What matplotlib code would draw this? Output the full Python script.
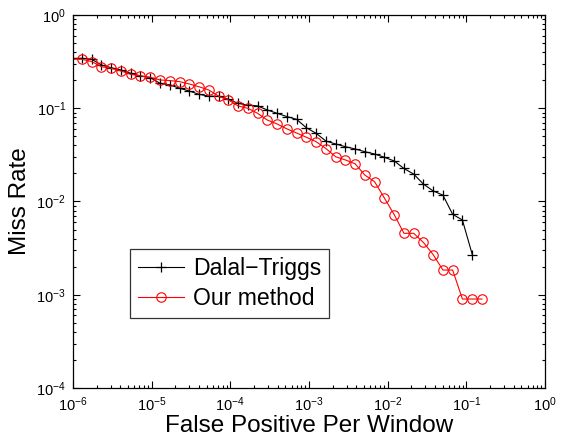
import numpy as np
import matplotlib
matplotlib.use("Agg")
import matplotlib.pyplot as plt

plt.rcParams['font.family'] = ['Liberation Sans', 'DejaVu Sans']
plt.rcParams['mathtext.fontset'] = 'custom'
plt.rcParams['mathtext.rm'] = 'Liberation Sans'
plt.rcParams['mathtext.it'] = 'Liberation Sans'
plt.rcParams['mathtext.bf'] = 'Liberation Sans'

# False positives per window (x) sampled along each curve
fppw = [1.30e-6, 1.73e-6, 2.30e-6, 3.06e-6, 4.07e-6, 5.42e-6, 7.21e-6, 9.59e-6,
        1.28e-5, 1.70e-5, 2.26e-5, 3.01e-5, 4.00e-5, 5.32e-5, 7.08e-5, 9.42e-5,
        1.25e-4, 1.67e-4, 2.22e-4, 2.95e-4, 3.93e-4, 5.22e-4, 6.95e-4, 9.25e-4,
        1.23e-3, 1.64e-3, 2.18e-3, 2.90e-3, 3.85e-3, 5.13e-3, 6.82e-3, 9.08e-3,
        1.21e-2, 1.61e-2, 2.14e-2, 2.84e-2, 3.78e-2, 5.04e-2, 6.70e-2, 8.91e-2,
        0.119, 0.158]

dalal_x = [7.0e-7] + fppw[:41]
dalal_miss = [0.343, 0.343, 0.335, 0.291, 0.272, 0.257, 0.237, 0.222, 0.213,
              0.185, 0.178, 0.164, 0.153, 0.141, 0.135, 0.134, 0.125, 0.113,
              0.108, 0.106, 0.0958, 0.0883, 0.0815, 0.0761, 0.0618, 0.0539,
              0.0445, 0.0414, 0.0387, 0.0366, 0.0342, 0.0323, 0.0298, 0.0272,
              0.0226, 0.0197, 0.0154, 0.0130, 0.0117, 0.00729, 0.00633, 0.00270]

ours_x = [7.0e-7] + fppw
ours_miss = [0.335, 0.335, 0.316, 0.279, 0.268, 0.251, 0.231, 0.222, 0.215,
             0.201, 0.198, 0.193, 0.182, 0.170, 0.157, 0.135, 0.123, 0.106,
             0.0999, 0.0883, 0.0748, 0.0678, 0.0602, 0.0543, 0.0489, 0.0438,
             0.0370, 0.0302, 0.0279, 0.0254, 0.0192, 0.0163, 0.0109, 0.00724,
             0.00456, 0.00456, 0.00365, 0.00270, 0.00184, 0.00184, 0.00090,
             0.00090, 0.00090]

labels = ["Dalal\u2212Triggs", "Our method"]

fig = plt.figure(figsize=(5.63, 4.40), dpi=100)
ax = fig.add_axes([73/563, 1-388/440, 472/563, 373/440])

ax.plot(dalal_x, dalal_miss, color='black', lw=0.8, marker='+', ms=7,
        mew=0.9, label=labels[0])
ax.plot(ours_x, ours_miss, color='red', lw=0.8, marker='o', ms=6.8,
        mfc='none', mec='red', mew=0.8, label=labels[1])

ax.set_xscale('log')
ax.set_yscale('log')
ax.set_xlim(1e-6, 1)
ax.set_ylim(1e-4, 1)
ax.set_xticks([1e-6, 1e-5, 1e-4, 1e-3, 1e-2, 1e-1, 1])
ax.set_yticks([1e-4, 1e-3, 1e-2, 1e-1, 1])

ax.tick_params(which='both', direction='in', top=True, right=True,
               labelsize=10.5, width=0.8, colors='black')
ax.tick_params(which='major', length=5, pad=5)
ax.tick_params(which='minor', length=2.5)
for s in ax.spines.values():
    s.set_linewidth(0.9)

ax.set_xlabel("False Positive Per Window", fontsize=17.5, labelpad=1)
ax.set_ylabel("Miss Rate", fontsize=17.5, labelpad=4)

leg = ax.legend(loc='lower left', bbox_to_anchor=(0.12, 0.188),
                fontsize=16.6, frameon=True, fancybox=False, handlelength=2.0,
                handletextpad=0.4, labelspacing=0.3, borderpad=0.35,
                borderaxespad=0)
leg.get_frame().set_edgecolor('black')
leg.get_frame().set_linewidth(0.9)

fig.savefig("out.png", dpi=100)
